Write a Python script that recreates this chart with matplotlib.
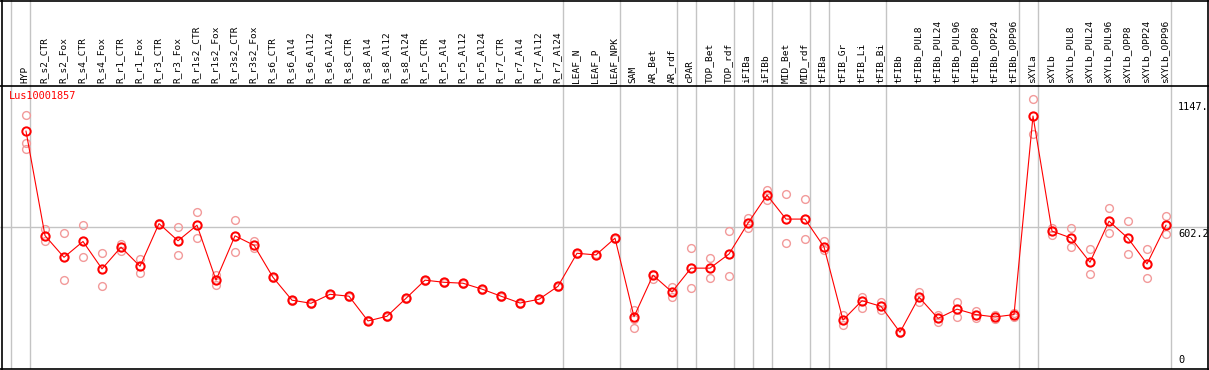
import numpy as np
import matplotlib
matplotlib.use('Agg')
import matplotlib.pyplot as plt
from matplotlib.lines import Line2D

gene = 'Lus10001857'

samples = ['HYP',
           'R_s2_CTR', 'R_s2_Fox', 'R_s4_CTR', 'R_s4_Fox', 'R_r1_CTR', 'R_r1_Fox',
           'R_r3_CTR', 'R_r3_Fox', 'R_r1s2_CTR', 'R_r1s2_Fox', 'R_r3s2_CTR', 'R_r3s2_Fox',
           'R_s6_CTR', 'R_s6_Al4', 'R_s6_Al12', 'R_s6_Al24', 'R_s8_CTR', 'R_s8_Al4',
           'R_s8_Al12', 'R_s8_Al24', 'R_r5_CTR', 'R_r5_Al4', 'R_r5_Al12', 'R_r5_Al24',
           'R_r7_CTR', 'R_r7_Al4', 'R_r7_Al12', 'R_r7_Al24',
           'LEAF_N', 'LEAF_P', 'LEAF_NPK',
           'SAM', 'AR_Bet', 'AR_rdf', 'cPAR', 'TOP_Bet', 'TOP_rdf', 'iFIBa', 'iFIBb',
           'MID_Bet', 'MID_rdf', 'tFIBa', 'tFIB_Gr', 'tFIB_Li', 'tFIB_Bi', 'tFIBb',
           'tFIBb_PUL8', 'tFIBb_PUL24', 'tFIBb_PUL96', 'tFIBb_OPP8', 'tFIBb_OPP24', 'tFIBb_OPP96',
           'sXYLa', 'sXYLb', 'sXYLb_PUL8', 'sXYLb_PUL24', 'sXYLb_PUL96',
           'sXYLb_OPP8', 'sXYLb_OPP24', 'sXYLb_OPP96']

mean_vals = [1010,
             567, 475, 542, 426, 518, 437, 618, 545, 611, 378, 566, 526,
             390, 293, 280, 318, 310, 205, 225, 301, 378, 369, 365, 340,
             310, 281, 297, 352,
             492, 485, 556,
             223, 399, 328, 429, 429, 489, 620, 739, 637, 637, 519, 209, 291, 267, 157,
             306, 216, 255, 232, 222, 232,
             1074, 586, 557, 454, 628, 556, 447, 611]

rep_a = [1079,
         594, 577, 611, 492, 532, 468, 622, 603, 666, 400, 632, 542,
         392, 295, 282, 320, 312, 207, 227, 303, 380, 371, 367, 342,
         312, 283, 299, 354,
         494, 487, 558,
         252, 403, 351, 514, 471, 586, 643, 761, 743, 723, 545, 230, 306, 284, 159,
         329, 230, 284, 249, 230, 240,
         1147, 601, 600, 509, 683, 628, 509, 651]

rep_b = [959,
         542, 378, 475, 352, 501, 410, 617, 484, 556, 359, 497, 514,
         388, 291, 278, 316, 308, 203, 223, 299, 376, 367, 363, 338,
         308, 279, 295, 350,
         490, 483, 554,
         174, 385, 306, 344, 386, 396, 598, 717, 535, 552, 506, 188, 259, 252, 155,
         284, 202, 223, 219, 215, 223,
         999, 569, 518, 403, 577, 488, 386, 573]

rep_c = [934,
         567, 475, 542, 426, 518, 437, 618, 545, 611, 378, 566, 526,
         390, 293, 280, 318, 310, 205, 225, 301, 378, 369, 365, 340,
         310, 281, 297, 352,
         492, 485, 556,
         213, 399, 328, 429, 429, 489, 620, 739, 637, 637, 519, 209, 291, 267, 157,
         306, 216, 255, 232, 222, 232,
         1074, 586, 557, 454, 628, 556, 447, 611]

# sample index after which a group separator is drawn
group_ends = [-1, 0, 28, 31, 34, 35, 37, 38, 39, 41, 42, 45, 52, 53, 60]

W, H = 1209, 370
fig = plt.figure(figsize=(W / 100, H / 100), dpi=100)

x = np.arange(len(samples))
xlim = (-26 / 19, (W - 26) / 19)
y_max = max(max(rep_a), max(rep_b), max(rep_c), max(mean_vals))
y_top = y_max * 1.05

# header with sample names
ax_h = fig.add_axes([0, 1 - 85 / H, 1, 85 / H])
ax_h.set_xlim(*xlim)
ax_h.set_ylim(85, 0)
ax_h.axis('off')
for i, name in enumerate(samples):
    ax_h.text(i - 0.05, 83, name, rotation=90, ha='center', va='bottom',
              fontsize=6.8, family='DejaVu Sans Mono', color='black')

# data area
ax = fig.add_axes([0, 0.7 / H, 1, 284 / H])
ax.set_xlim(*xlim)
ax.set_ylim(0, y_top)
ax.axis('off')

for g in group_ends:
    for a in (ax, ax_h):
        a.axvline(g + 4.5 / 19, color='#c4c4c4', lw=1.0, zorder=0)
ax.axhline(y_top / 2, color='#c4c4c4', lw=1.0, zorder=0)

for rep in (rep_a, rep_b, rep_c):
    ax.plot(x, rep, ls='none', marker='o', ms=5.6, mfc='none', mec='#f29a9a',
            mew=1.0, zorder=2, clip_on=False)
ax.plot(x, mean_vals, color='red', lw=0.8, marker='o', ms=6.0, mfc='none',
        mec='red', mew=1.4, zorder=3, clip_on=False)

ax.annotate(gene, xy=(0, 1), xycoords='axes fraction', xytext=(6.5, -4),
            textcoords='offset points', ha='left', va='top', color='red',
            fontsize=7.4, family='DejaVu Sans Mono')

rx = 1178 / W
ax.annotate(f'{y_max:.0f}.', xy=(rx, y_max), xycoords=('axes fraction', 'data'),
            xytext=(0, -2.5), textcoords='offset points', ha='left', va='top',
            fontsize=7.4, family='DejaVu Sans Mono')
ax.annotate(f'{y_top / 2:.1f}', xy=(rx, y_top / 2), xycoords=('axes fraction', 'data'),
            xytext=(0, -1), textcoords='offset points', ha='left', va='top',
            fontsize=7.4, family='DejaVu Sans Mono')
ax.annotate('0', xy=(rx, 0), xycoords=('axes fraction', 'data'),
            xytext=(0, 3), textcoords='offset points', ha='left', va='bottom',
            fontsize=7.4, family='DejaVu Sans Mono')

# frame lines
fig.add_artist(Line2D([1.5 / W, 1.5 / W], [0, 1], color='black', lw=1.2, transform=fig.transFigure))
fig.add_artist(Line2D([(W - 1.5) / W, (W - 1.5) / W], [0, 1], color='black', lw=1.2, transform=fig.transFigure))
fig.add_artist(Line2D([0, 1], [1 - 0.5 / H, 1 - 0.5 / H], color='black', lw=1.2, transform=fig.transFigure))
fig.add_artist(Line2D([0, 1], [1 - 85.5 / H, 1 - 85.5 / H], color='black', lw=1.2, transform=fig.transFigure))
fig.add_artist(Line2D([0, 1], [0.7 / H, 0.7 / H], color='black', lw=1.2, transform=fig.transFigure))

fig.savefig('out.png', dpi=100)
